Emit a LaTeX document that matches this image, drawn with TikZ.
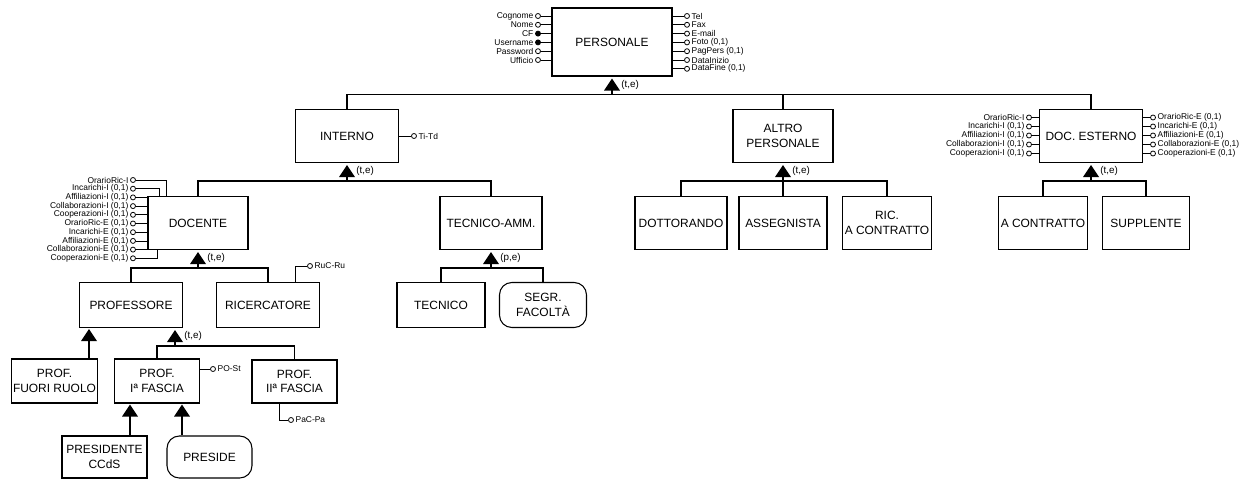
\documentclass[tikz,border=0pt]{standalone}
\usepackage{fontspec}
\setmainfont{Liberation Sans}
\usetikzlibrary{calc}
\tikzset{
 ent/.style={draw, line width=0.6pt, align=center, inner sep=1pt, font=\fontsize{6.8}{8.4}\selectfont, fill=white},
 rent/.style={ent, rounded corners=7pt},
 att/.style={circle, draw, line width=0.45pt, inner sep=0pt, minimum size=0.1cm, fill=white},
 katt/.style={att, fill=black},
 alab/.style={font=\fontsize{4.8}{5.2}\selectfont, inner sep=0.8pt},
 aline/.style={line width=0.45pt},
 genl/.style={line width=1.1pt},
 gtri/.style={fill=black},
 glab/.style={font=\fontsize{5.6}{6}\selectfont, inner sep=0pt, anchor=west},
}
\newcommand\genarrow[4]{% parent, dx, junction name, label
 \fill[gtri] ($(#1.south)+(#2,2)$) -- ++(-8,12) -- ++(16,0) -- cycle;
 \draw[genl] ($(#1.south)+(#2,13)$) -- ++(0,5) coordinate (#3);
 \node[glab] at ($(#1.south)+(#2+9,8)$) {#4};
}
\begin{document}
\begin{tikzpicture}[x=0.02cm, y=-0.02cm]
\useasboundingbox (0,0) rectangle (1250,480);

% entities
\node[ent, minimum width=2.4cm, minimum height=1.36cm] (personale) at (612,42) {PERSONALE};
\node[ent, minimum width=2.06cm, minimum height=1.06cm] (interno) at (347,136) {INTERNO};
\node[ent, minimum width=2.0cm, minimum height=1.06cm] (altro) at (783,136) {ALTRO\\PERSONALE};
\node[ent, minimum width=2.06cm, minimum height=1.06cm] (docest) at (1091,136) {DOC. ESTERNO};
\node[ent, minimum width=2.0cm, minimum height=1.06cm] (docente) at (198,223) {DOCENTE};
\node[ent, minimum width=2.04cm, minimum height=1.06cm] (tecamm) at (491,223) {TECNICO-AMM.};
\node[ent, minimum width=1.84cm, minimum height=1.06cm] (dott) at (681,223) {DOTTORANDO};
\node[ent, minimum width=1.76cm, minimum height=1.06cm] (asseg) at (783,223) {ASSEGNISTA};
\node[ent, minimum width=1.78cm, minimum height=1.06cm] (ricc) at (887,223) {RIC.\\A CONTRATTO};
\node[ent, minimum width=1.78cm, minimum height=1.06cm] (acontr) at (1043,223) {A CONTRATTO};
\node[ent, minimum width=1.74cm, minimum height=1.06cm] (suppl) at (1146,223) {SUPPLENTE};
\node[ent, minimum width=2.06cm, minimum height=0.9cm] (prof) at (131,305) {PROFESSORE};
\node[ent, minimum width=2.06cm, minimum height=0.9cm] (ricerc) at (268,305) {RICERCATORE};
\node[ent, minimum width=1.76cm, minimum height=0.9cm] (tecnico) at (441,305) {TECNICO};
\node[rent, minimum width=1.74cm, minimum height=0.9cm] (segr) at (543,305) {SEGR.\\FACOLTÀ};
\node[ent, minimum width=1.7cm, minimum height=0.88cm] (fuori) at (54.5,381) {PROF.\\FUORI RUOLO};
\node[ent, minimum width=1.7cm, minimum height=0.88cm] (prima) at (157,381) {PROF.\\Iª FASCIA};
\node[ent, minimum width=1.7cm, minimum height=0.86cm] (seconda) at (294.5,381.5) {PROF.\\IIª FASCIA};
\node[ent, minimum width=1.7cm, minimum height=0.84cm] (presid) at (104.5,457) {PRESIDENTE\\CCdS};
\node[rent, minimum width=1.7cm, minimum height=0.84cm] (preside) at (209.5,457) {PRESIDE};

% generalizations
\genarrow{personale}{0}{j0}{(t,e)}
\draw[genl] (interno.north) |- (j0) -| (docest.north);
\draw[genl] (j0) -| (altro.north);

\genarrow{interno}{0}{j1}{(t,e)}
\draw[genl] (docente.north) |- (j1) -| (tecamm.north);

\genarrow{altro}{0}{j2}{(t,e)}
\draw[genl] (dott.north) |- (j2) -| (ricc.north);
\draw[genl] (j2) -- (asseg.north);

\genarrow{docest}{0}{j3}{(t,e)}
\draw[genl] (acontr.north) |- (j3) -| (suppl.north);

\genarrow{docente}{0}{j4}{(t,e)}
\draw[genl] (prof.north) |- (j4) -| (ricerc.north);

\genarrow{tecamm}{0}{j5}{(p,e)}
\draw[genl] (tecnico.north) |- (j5) -| (segr.north);

\genarrow{prof}{44}{j6}{(t,e)}
\draw[genl] (prima.north) |- (j6) -| (seconda.north);

\fill[gtri] ($(prof.south)+(-42,1)$) -- ++(-8,12) -- ++(16,0) -- cycle;
\coordinate (fr) at ($(prof.south)+(-42,12)$);
\draw[genl] (fr) -- (fr |- fuori.north);

\fill[gtri] ($(prima.south)+(-27,1)$) -- ++(-8,12) -- ++(16,0) -- cycle;
\coordinate (pr1) at ($(prima.south)+(-27,12)$);
\draw[genl] (pr1) -- (pr1 |- presid.north);

\fill[gtri] ($(prima.south)+(25,1)$) -- ++(-8,12) -- ++(16,0) -- cycle;
\coordinate (pr2) at ($(prima.south)+(25,12)$);
\draw[genl] (pr2) -- (pr2 |- preside.north);

% PERSONALE attributes
\foreach \t/\y/\s [count=\i] in {Cognome/16/att, Nome/24.8/att, CF/33.6/katt, Username/42.4/katt, Password/51.2/att, Ufficio/60/att}{
 \node[\s, label={[alab]left:{\t}}] (pl\i) at (538,\y) {};
 \draw[aline] (pl\i) -- (pl\i -| personale.west);
}
\foreach \t/\y [count=\i] in {Tel/16, Fax/24.8, E-mail/33.6, {Foto (0,1)}/42.4, {PagPers (0,1)}/51.2, DataInizio/60, {DataFine (0,1)}/68.8}{
 \node[att, label={[alab]right:{\t}}] (pr\i) at (687,\y) {};
 \draw[aline] (pr\i) -- (pr\i -| personale.east);
}

% INTERNO attribute
\node[att, label={[alab]right:Ti-Td}] (titd) at (414,136) {};
\draw[aline] (interno.east) -- (titd);

% DOCENTE attributes
\foreach \t [count=\i] in {OrarioRic-I, {Incarichi-I (0,1)}, {Affiliazioni-I (0,1)}, {Collaborazioni-I (0,1)}, {Cooperazioni-I (0,1)}, {OrarioRic-E (0,1)}, {Incarichi-E (0,1)}, {Affiliazioni-E (0,1)}, {Collaborazioni-E (0,1)}, {Cooperazioni-E (0,1)}}{
 \node[att, label={[alab]left:{\t}}] (da\i) at (133,{180+8.7*(\i-1)}) {};
}
\draw[aline] (da1) -| ($(docente.north west)+(19,0)$);
\draw[aline] (da2) -| ($(docente.north west)+(12,0)$);
\foreach \i in {3,...,9}{\draw[aline] (da\i) -- (da\i -| docente.west);}
\draw[aline] (da10) -| ($(docente.south west)+(10,0)$);

% DOC. ESTERNO attributes
\foreach \t [count=\i] in {OrarioRic-I, {Incarichi-I (0,1)}, {Affiliazioni-I (0,1)}, {Collaborazioni-I (0,1)}, {Cooperazioni-I (0,1)}}{
 \node[att, label={[alab]left:{\t}}] (el\i) at (1029,{117.5+9*(\i-1)}) {};
 \draw[aline] (el\i) -- (el\i -| docest.west);
}
\foreach \t [count=\i] in {{OrarioRic-E (0,1)}, {Incarichi-E (0,1)}, {Affiliazioni-E (0,1)}, {Collaborazioni-E (0,1)}, {Cooperazioni-E (0,1)}}{
 \node[att, label={[alab]right:{\t}}] (er\i) at (1153,{117.5+9*(\i-1)}) {};
 \draw[aline] (er\i) -- (er\i -| docest.east);
}

% other attributes
\node[att, label={[alab]right:RuC-Ru}] (ruc) at (310,266) {};
\draw[aline] (ruc) -| ($(ricerc.north)+(27,0)$);
\node[att, label={[alab]right:PO-St}] (post) at (213,369) {};
\draw[aline] (post) -- (post -| prima.east);
\node[att, label={[alab]right:PaC-Pa}] (pac) at (291,420) {};
\draw[aline] (pac) -| ($(seconda.south)+(-15,0)$);

\end{tikzpicture}
\end{document}
